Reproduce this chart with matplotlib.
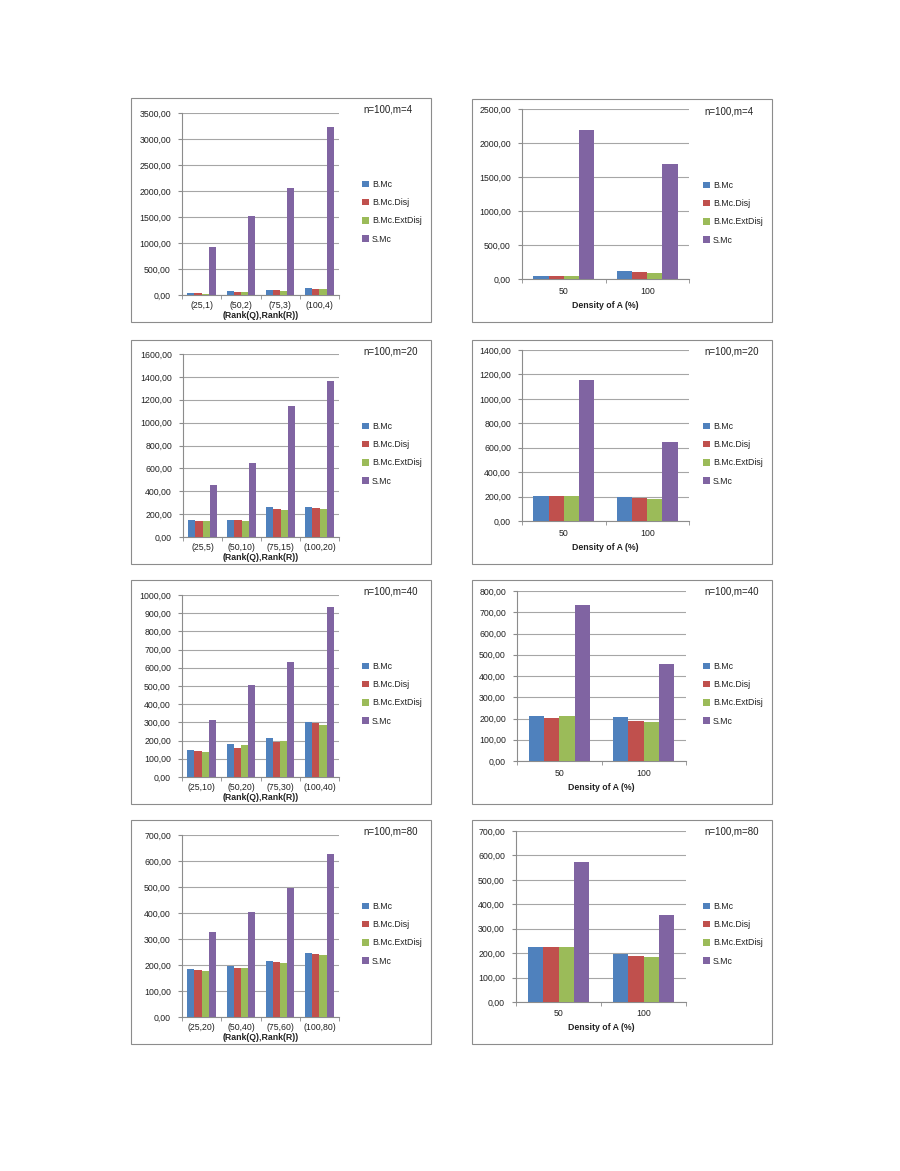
import numpy as np
import matplotlib
matplotlib.use("Agg")
import matplotlib.pyplot as plt
from matplotlib.patches import Rectangle
from matplotlib.ticker import FuncFormatter, MultipleLocator

plt.rcParams['font.family'] = ['Liberation Sans', 'DejaVu Sans']

# data
m_values = [4, 20, 40, 80]
series_names = ["B.Mc", "B.Mc.Disj", "B.Mc.ExtDisj", "S.Mc"]
colors = ["#4F81BD", "#C0504D", "#9BBB59", "#8064A2"]

rank_labels = [["(25,1)", "(50,2)", "(75,3)", "(100,4)"],
               ["(25,5)", "(50,10)", "(75,15)", "(100,20)"],
               ["(25,10)", "(50,20)", "(75,30)", "(100,40)"],
               ["(25,20)", "(50,40)", "(75,60)", "(100,80)"]]
density_labels = ["50", "100"]

# left column: one row per m
rank_bmc = [[40, 72, 105, 140], [150, 150, 258, 262], [148, 183, 212, 304], [184, 195, 216, 248]]
rank_disj = [[30, 62, 92, 125], [143, 146, 248, 255], [142, 159, 190, 295], [180, 190, 211, 242]]
rank_ext = [[28, 55, 85, 110], [138, 140, 240, 248], [139, 174, 200, 288], [178, 188, 209, 240]]
rank_smc = [[925, 1525, 2060, 3240], [455, 650, 1148, 1362], [315, 505, 630, 932], [328, 403, 498, 627]]

# right column: one row per m
density_bmc = [[49, 120], [208, 200], [213, 207], [224, 197]]
density_disj = [[44, 108], [207, 188], [204, 187], [224, 187]]
density_ext = [[39, 95], [205, 178], [212, 185], [224, 183]]
density_smc = [[2185, 1690], [1155, 650], [736, 455], [572, 356]]

rank_ymax = [3500, 1600, 1000, 700]
rank_ystep = [500, 200, 100, 100]
density_ymax = [2500, 1400, 800, 700]
density_ystep = [500, 200, 100, 100]

W, H = 900, 1171
fig = plt.figure(figsize=(W / 100, H / 100), dpi=100)
fig.patch.set_facecolor("white")


def fx(x):
    return x / W


def fy(y):
    return 1 - y / H


def comma_fmt(v, pos):
    return f"{v:.2f}".replace(".", ",")


def draw_panel(box, plot, cats, series, ymax, ystep, title, xlabel, tick_y, label_y):
    bx0, by0, bx1, by1 = box
    fig.patches.append(Rectangle((fx(bx0), fy(by1)), fx(bx1 - bx0), (by1 - by0) / H,
                                 transform=fig.transFigure, fill=False,
                                 edgecolor="#8c8c8c", linewidth=0.8))
    x0, y0, x1, y1 = plot
    ax = fig.add_axes([fx(x0), fy(y1), fx(x1 - x0), (y1 - y0) / H])
    n = len(cats)
    xs = np.arange(n)
    bw = 1 / 5.5
    for i, vals in enumerate(series):
        ax.bar(xs + (i - 1.5) * bw, vals, bw, color=colors[i], label=series_names[i],
               zorder=3, linewidth=0)
    ax.set_xlim(-0.5, n - 0.5)
    ax.set_ylim(0, ymax)
    ax.yaxis.set_major_locator(MultipleLocator(ystep))
    ax.yaxis.set_major_formatter(FuncFormatter(comma_fmt))
    ax.grid(axis="y", color="#a6a6a6", linewidth=0.8, zorder=0)
    for s in ["top", "right"]:
        ax.spines[s].set_visible(False)
    for s in ["left", "bottom"]:
        ax.spines[s].set_color("#8c8c8c")
        ax.spines[s].set_linewidth(0.8)
    ax.set_xticks(xs)
    ax.set_xticklabels(cats)
    ax.set_xticks(np.arange(n + 1) - 0.5, minor=True)
    ax.tick_params(axis="x", which="major", length=0, labelsize=6.3,
                   pad=(tick_y - 4.5) * 0.72, colors="#222222")
    ax.tick_params(axis="x", which="minor", length=3, color="#8c8c8c")
    ax.tick_params(axis="y", length=3, color="#8c8c8c", labelsize=6.3, pad=5,
                   labelcolor="#222222")
    ax.annotate(xlabel, xy=(0.5, 0), xycoords="axes fraction",
                xytext=(0, -label_y * 0.72), textcoords="offset points",
                ha="center", va="center", fontsize=6.3, fontweight="bold",
                color="#222222")
    fig.text(fx(bx0 + 232), fy(by0 + 12), title, ha="left", va="center",
             fontsize=7, color="#222222")
    leg = fig.legend(*ax.get_legend_handles_labels(), loc="upper left",
                     bbox_to_anchor=(fx(bx0 + 231), fy(by0 + 82)),
                     frameon=False, fontsize=6.3, handlelength=0.75,
                     handleheight=0.75, handletextpad=0.4, labelspacing=1.05,
                     borderaxespad=0, borderpad=0)
    for t in leg.get_texts():
        t.set_color("#222222")
    return ax


left_boxes = [(131, 98, 431, 322), (131, 340, 431, 564), (131, 580, 431, 804), (131, 820, 431, 1044)]
left_plots = [(182, 113, 339, 295), (183, 354, 339, 537), (182, 595, 339, 777), (182, 835, 339, 1017)]
right_boxes = [(472, 99, 772, 322), (472, 340, 772, 564), (472, 580, 772, 804), (472, 820, 772, 1044)]
right_plots = [(522, 109, 689, 279), (522, 350, 689, 521), (517, 591, 686, 761), (516, 831, 686, 1002)]

for k, m in enumerate(m_values):
    title = f"n=100,m={m}"
    draw_panel(left_boxes[k], left_plots[k], rank_labels[k],
               [rank_bmc[k], rank_disj[k], rank_ext[k], rank_smc[k]],
               rank_ymax[k], rank_ystep[k], title, "(Rank(Q),Rank(R))", 11, 21)
    draw_panel(right_boxes[k], right_plots[k], density_labels,
               [density_bmc[k], density_disj[k], density_ext[k], density_smc[k]],
               density_ymax[k], density_ystep[k], title, "Density of A (%)", 12, 26)

fig.savefig("out.png", dpi=100)
